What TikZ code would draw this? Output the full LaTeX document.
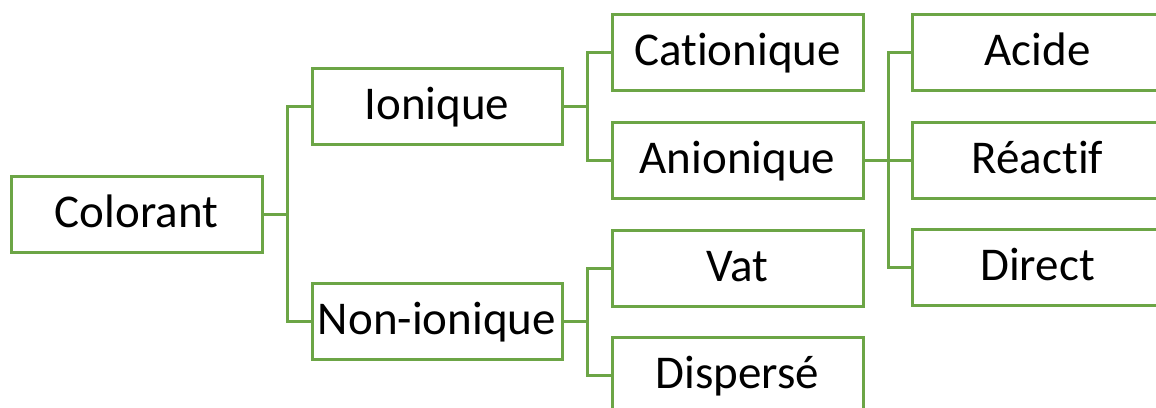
\documentclass[tikz,border=0pt]{standalone}
\usepackage{fontspec}
\setmainfont[Ligatures={NoCommon}]{Carlito}
\definecolor{boxgreen}{RGB}{108,165,70}
\begin{document}
\begin{tikzpicture}[x=0.5pt,y=-0.5pt,
  cbox/.style={draw=boxgreen,line width=1.5pt,fill=white,minimum width=125.5pt,minimum height=38pt,
    inner sep=0pt,text height=17pt,text depth=3.5pt,font=\fontsize{23.5pt}{28pt}\selectfont,text=black},
  link/.style={draw=boxgreen,line width=1.5pt}]
\clip (0,0) rectangle (1156,407);
\useasboundingbox (0,0) rectangle (1156,407);
\node[cbox] (col) at (136.5,214) {Colorant};
\node[cbox,minimum width=125pt] (ion) at (437,106) {Ionique};
\node[cbox,minimum width=125pt] (non) at (437,321) {Non-ionique};
\node[cbox] (cat) at (737.5,52) {Cationique};
\node[cbox] (ani) at (737.5,160) {Anionique};
\node[cbox] (vat) at (737.5,268) {Vat};
\node[cbox] (dis) at (737.5,375) {Dispersé};
\node[cbox] (aci) at (1037.5,52) {Acide};
\node[cbox] (rea) at (1037.5,160) {Réactif};
\node[cbox] (dir) at (1037.5,267) {Direct};
\coordinate (t1) at (287,214);
\coordinate (t2) at (587,106);
\coordinate (t3) at (587,321);
\coordinate (t4) at (888,160);
\draw[link] (col.east) -- (t1) |- (ion.west);
\draw[link] (t1) |- (non.west);
\draw[link] (ion.east) -- (t2) |- (cat.west);
\draw[link] (t2) |- (ani.west);
\draw[link] (non.east) -- (t3) |- (vat.west);
\draw[link] (t3) |- (dis.west);
\draw[link] (ani.east) -- (t4) |- (aci.west);
\draw[link] (t4) -- (rea.west);
\draw[link] (t4) |- (dir.west);
\end{tikzpicture}
\end{document}
